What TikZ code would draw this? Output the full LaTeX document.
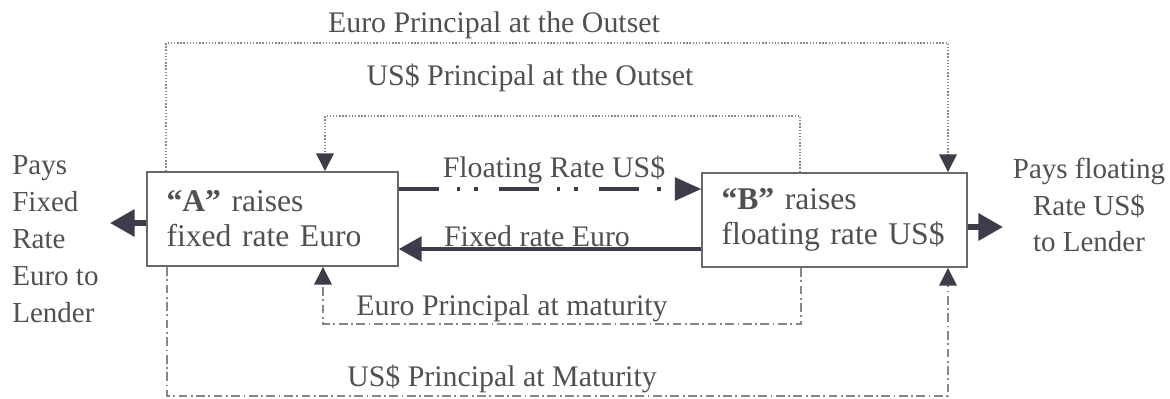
\documentclass[tikz,border=0pt]{standalone}
\usepackage{fontspec}
\setmainfont{Liberation Serif}
\usepackage{tikz}
\usetikzlibrary{arrows.meta}
\usetikzlibrary{positioning}
\usetikzlibrary{calc}
\definecolor{boxLine}{RGB}{105,105,105}
\definecolor{thinLine}{RGB}{135,135,135}
\definecolor{thickLine}{RGB}{60,60,74}
\definecolor{labelText}{RGB}{80,80,80}
\tikzstyle{partyNode} = [rectangle, draw=boxLine, line width=1.1pt, fill=white, align=left, inner xsep=11pt, minimum height=1.88cm, text=labelText, font=\fontsize{18}{20}\selectfont]
\tikzstyle{flowLabel} = [inner sep=0pt, text=labelText, font=\fontsize{17}{20}\selectfont]
\tikzstyle{lenderText} = [inner sep=0pt, text=labelText, font=\fontsize{16.5}{21}\selectfont]
\tikzstyle{outsetLine} = [draw=thinLine, line width=0.8pt, densely dotted, -{Triangle[width=10pt,length=10pt,color=thickLine]}]
\tikzstyle{maturityLine} = [draw=thinLine, line width=0.8pt, dash pattern=on 5pt off 2pt on 1pt off 2pt, -{Triangle[width=10pt,length=10pt,color=thickLine]}]
\tikzstyle{floatLine} = [draw=thickLine, line width=1.8pt, dash pattern=on 23pt off 10pt on 2pt off 8pt on 2pt off 12pt, -{Triangle[width=13pt,length=15pt]}]
\tikzstyle{fixedLine} = [draw=thickLine, line width=2pt, -{Triangle[width=14pt,length=13pt]}]
\tikzstyle{lenderArrow} = [draw=thickLine, line width=3pt, -{Triangle[width=15pt,length=14pt]}]

\begin{document}
\begin{tikzpicture}[x=0.02cm, y=-0.02cm]
	\useasboundingbox (0,0) rectangle (1170,399);

	\node[partyNode, text width=4.24cm] at (272.5,219) (Party-A){\textbf{“A”} raises\\fixed rate Euro};

	\node[partyNode, text width=4.52cm] at (834.5,220) (Party-B){\textbf{“B”} raises\\floating rate US\$};

	\node[lenderText, anchor=west, align=left] at (12,239) (Pays-A){Pays\\Fixed\\Rate\\Euro to\\Lender};

	\node[lenderText, align=center] at (1089,205) (Pays-B){Pays floating\\Rate US\$\\to Lender};

	\coordinate (Lend-A) at (110,223);
	\coordinate (Lend-B) at (1003,227);

	% principal at the outset
	\coordinate (EuroOut-L) at (166,43);
	\coordinate (EuroOut-R) at (948,43);
	\coordinate (UsdOut-L) at (325,116);
	\coordinate (UsdOut-R) at (800,116);

	% principal at maturity
	\coordinate (EuroMat-L) at (323,324);
	\coordinate (EuroMat-R) at (801,324);
	\coordinate (UsdMat-L) at (167,396);
	\coordinate (UsdMat-R) at (948,396);

	\node[flowLabel] at (494,25) (Euro-Outset){Euro Principal at the Outset};
	\node[flowLabel] at (530,78) (Usd-Outset){US\$ Principal at the Outset};
	\node[flowLabel] at (554,170) (Float-Label){Floating Rate US\$};
	\node[flowLabel] at (537,236) (Fixed-Label){Fixed rate Euro};
	\node[flowLabel] at (512,308) (Euro-Maturity){Euro Principal at maturity};
	\node[flowLabel] at (502,379) (Usd-Maturity){US\$ Principal at Maturity};

	\draw[outsetLine] (EuroOut-L |- Party-A.north) -- (EuroOut-L) -- (EuroOut-R) -- (EuroOut-R |- Party-B.north);
	\draw[outsetLine] (UsdOut-R |- Party-B.north) -- (UsdOut-R) -- (UsdOut-L) -- (UsdOut-L |- Party-A.north);

	\draw[floatLine] ([yshift=0.6cm]Party-A.east) -- ([yshift=0.6cm]Party-A.east -| Party-B.west);
	\draw[fixedLine] ([yshift=-0.58cm]Party-B.west) -- ([yshift=-0.58cm]Party-B.west -| Party-A.east);

	\draw[maturityLine] (EuroMat-R |- Party-B.south) -- (EuroMat-R) -- (EuroMat-L) -- (EuroMat-L |- Party-A.south);
	\draw[maturityLine] (UsdMat-L |- Party-A.south) -- (UsdMat-L) -- (UsdMat-R) -- (UsdMat-R |- Party-B.south);

	\draw[lenderArrow] (Party-A.west |- Lend-A) -- (Lend-A);
	\draw[lenderArrow] (Party-B.east |- Lend-B) -- (Lend-B);

\end{tikzpicture}
\end{document}
